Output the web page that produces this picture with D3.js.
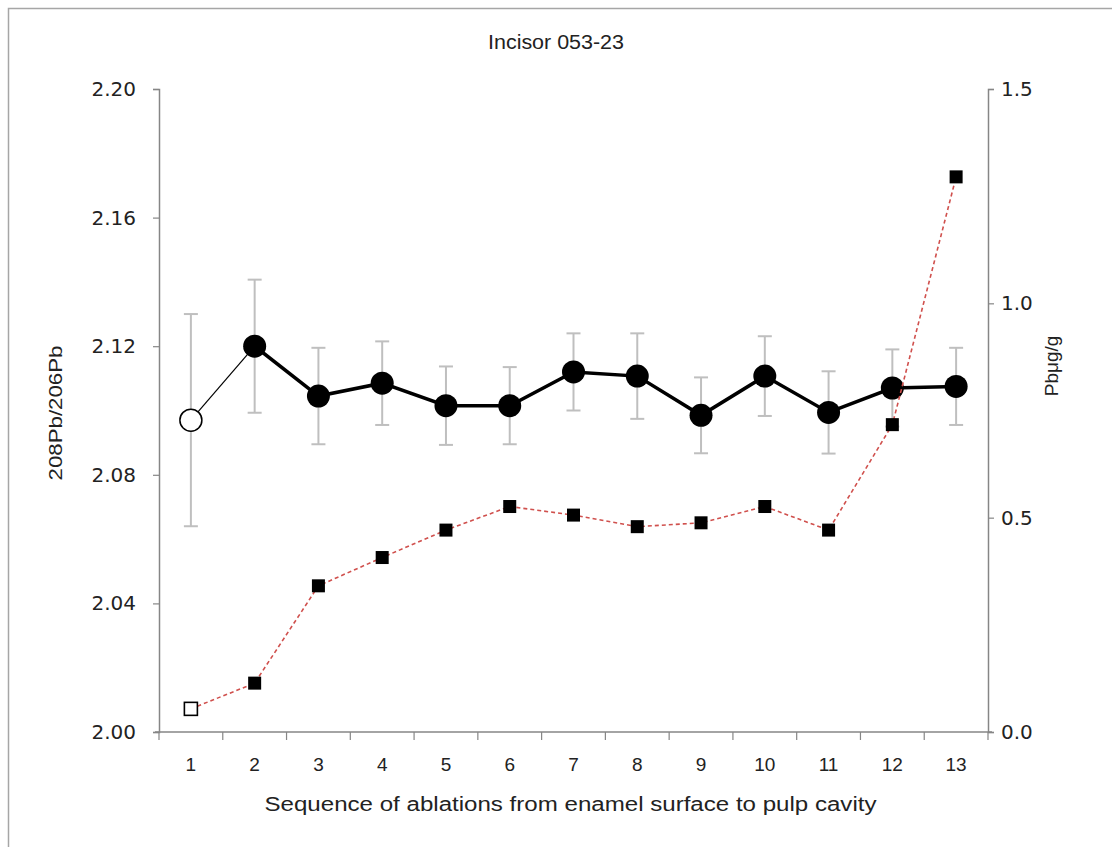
<!DOCTYPE html>
<html>
<head>
<meta charset="utf-8">
<script src="https://cdn.jsdelivr.net/npm/d3@7"></script>
<style>
  body { margin: 0; background: #fff; }
  .tick text { font-family: "DejaVu Sans", Verdana, sans-serif; }
  .narrow { font-family: "Liberation Sans Narrow", "Arial Narrow", "Liberation Sans", sans-serif; }
</style>
</head>
<body>
<div id="chart"></div>
<script>
const svgWidth = 1112;
const svgHeight = 847;

const margin = { top: 89, right: 124, bottom: 115, left: 159 };
const width = 988 - margin.left;
const height = 732 - margin.top;

// data
const ablations = ["1", "2", "3", "4", "5", "6", "7", "8", "9", "10", "11", "12", "13"];
const ratio = [2.097, 2.120, 2.1045, 2.1085, 2.1015, 2.1015, 2.112, 2.1107, 2.0985, 2.1107, 2.0994, 2.107, 2.1075];
const ratioErr = [0.033, 0.0207, 0.015, 0.013, 0.0122, 0.012, 0.012, 0.0133, 0.0118, 0.0124, 0.0128, 0.012, 0.012];
const pbConc = [0.054, 0.114, 0.341, 0.407, 0.471, 0.526, 0.506, 0.479, 0.488, 0.526, 0.471, 0.717, 1.295];
const leftTicks = [2.00, 2.04, 2.08, 2.12, 2.16, 2.20];
const rightTicks = [0.0, 0.5, 1.0, 1.5];

const axisColor = "#868686";

const svg = d3.select("#chart")
  .append("svg")
  .attr("width", svgWidth)
  .attr("height", svgHeight);

// outer frame
svg.append("rect")
  .attr("x", 8.5).attr("y", 8.5)
  .attr("width", svgWidth + 20).attr("height", svgHeight + 20)
  .attr("fill", "none")
  .attr("stroke", "#a6a6a6")
  .attr("stroke-width", 1.5);

const chartGroup = svg.append("g")
  .attr("transform", `translate(${margin.left}, ${margin.top})`);

const x = d3.scaleBand()
  .domain(ablations)
  .range([0, width]);

const cx = d => x(d) + x.bandwidth() / 2;

const yLeft = d3.scaleLinear()
  .domain([2.00, 2.20])
  .range([height, 0]);

const yRight = d3.scaleLinear()
  .domain([0, 1.5])
  .range([height, 0]);

// axes
const leftAxis = d3.axisLeft(yLeft)
  .tickValues(leftTicks)
  .tickFormat(d3.format(".2f"))
  .tickSize(6)
  .tickPadding(17);

const rightAxis = d3.axisRight(yRight)
  .tickValues(rightTicks)
  .tickFormat(d3.format(".1f"))
  .tickSize(6)
  .tickPadding(7);

const gLeft = chartGroup.append("g").call(leftAxis);
const gRight = chartGroup.append("g")
  .attr("transform", `translate(${width}, 0)`)
  .call(rightAxis);

// x axis: ticks at band boundaries
const gBottom = chartGroup.append("g")
  .attr("transform", `translate(0, ${height})`);

gBottom.append("line")
  .attr("x1", -4).attr("x2", width + 4)
  .attr("stroke", axisColor).attr("stroke-width", 1.5);

gBottom.selectAll(".xtick")
  .data(ablations.concat(["end"]))
  .enter()
  .append("line")
  .attr("class", "xtick")
  .attr("x1", d => d === "end" ? width : x(d))
  .attr("x2", d => d === "end" ? width : x(d))
  .attr("y1", 0).attr("y2", 8)
  .attr("stroke", axisColor).attr("stroke-width", 1.2);

gBottom.selectAll(".xlabel")
  .data(ablations)
  .enter()
  .append("text")
  .attr("class", "narrow")
  .attr("x", d => cx(d))
  .attr("y", 39)
  .attr("text-anchor", "middle")
  .attr("font-size", 19)
  .attr("fill", "#222")
  .text(d => d);

[gLeft, gRight].forEach(g => {
  g.select(".domain").attr("stroke", axisColor).attr("stroke-width", 1.5);
  g.selectAll(".tick line").attr("stroke", axisColor).attr("stroke-width", 1.2);
  g.selectAll(".tick text").attr("font-size", 20).attr("fill", "#222");
});

// error bars
const errGroup = chartGroup.append("g")
  .attr("stroke", "#bfbfbf")
  .attr("stroke-width", 2);

ablations.forEach((a, i) => {
  const xc = cx(a);
  const lo = yLeft(ratio[i] - ratioErr[i]);
  const hi = yLeft(ratio[i] + ratioErr[i]);
  errGroup.append("line").attr("x1", xc).attr("x2", xc).attr("y1", lo).attr("y2", hi);
  errGroup.append("line").attr("x1", xc - 7).attr("x2", xc + 7).attr("y1", lo).attr("y2", lo);
  errGroup.append("line").attr("x1", xc - 7).attr("x2", xc + 7).attr("y1", hi).attr("y2", hi);
});

// ratio line: thin between 1 and 2, thick afterwards
const ratioPts = ablations.map((a, i) => [cx(a), yLeft(ratio[i])]);
const line = d3.line();

chartGroup.append("path")
  .attr("d", line(ratioPts.slice(0, 2)))
  .attr("fill", "none")
  .attr("stroke", "#000")
  .attr("stroke-width", 1.2);

chartGroup.append("path")
  .attr("d", line(ratioPts.slice(1)))
  .attr("fill", "none")
  .attr("stroke", "#000")
  .attr("stroke-width", 3.5);

chartGroup.selectAll(".ratio-dot")
  .data(ablations)
  .enter()
  .append("circle")
  .attr("class", "ratio-dot")
  .attr("cx", d => cx(d))
  .attr("cy", (d, i) => yLeft(ratio[i]))
  .attr("r", (d, i) => i === 0 ? 11 : 11.5)
  .attr("fill", (d, i) => i === 0 ? "#fff" : "#000")
  .attr("stroke", "#000")
  .attr("stroke-width", (d, i) => i === 0 ? 1.5 : 0);

// Pb concentration on the right axis
chartGroup.append("path")
  .attr("d", line(ablations.map((a, i) => [cx(a), yRight(pbConc[i])])))
  .attr("fill", "none")
  .attr("stroke", "#d0504d")
  .attr("stroke-width", 1.6)
  .attr("stroke-dasharray", "4,3");

chartGroup.selectAll(".pb-sq")
  .data(ablations)
  .enter()
  .append("rect")
  .attr("class", "pb-sq")
  .attr("x", d => cx(d) - 6.5)
  .attr("y", (d, i) => yRight(pbConc[i]) - 6.5)
  .attr("width", 13)
  .attr("height", 13)
  .attr("fill", (d, i) => i === 0 ? "#fff" : "#000")
  .attr("stroke", "#000")
  .attr("stroke-width", (d, i) => i === 0 ? 1.6 : 0);

// titles
svg.append("text")
  .attr("class", "narrow")
  .attr("x", 556).attr("y", 49)
  .attr("text-anchor", "middle")
  .attr("font-size", 20)
  .attr("textLength", 136)
  .attr("lengthAdjust", "spacingAndGlyphs")
  .attr("fill", "#222")
  .text("Incisor 053-23");

svg.append("text")
  .attr("class", "narrow")
  .attr("transform", `translate(62, 413) rotate(-90)`)
  .attr("text-anchor", "middle")
  .attr("font-size", 19)
  .attr("textLength", 135)
  .attr("lengthAdjust", "spacingAndGlyphs")
  .attr("fill", "#222")
  .text("208Pb/206Pb");

svg.append("text")
  .attr("class", "narrow")
  .attr("transform", `translate(1058, 366) rotate(-90)`)
  .attr("text-anchor", "middle")
  .attr("font-size", 19)
  .attr("fill", "#222")
  .text("Pbμg/g");

svg.append("text")
  .attr("class", "narrow")
  .attr("x", margin.left + width / 2 - 3)
  .attr("y", 811)
  .attr("text-anchor", "middle")
  .attr("font-size", 20)
  .attr("textLength", 612)
  .attr("lengthAdjust", "spacingAndGlyphs")
  .attr("fill", "#222")
  .text("Sequence of ablations from enamel surface to pulp cavity");
</script>
</body>
</html>
